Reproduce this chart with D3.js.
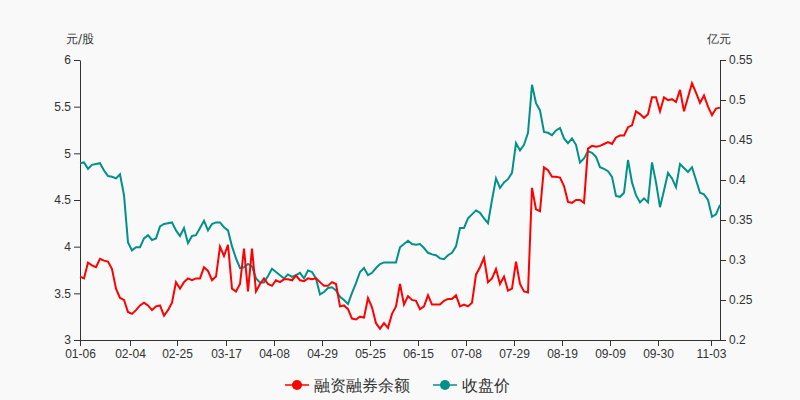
<!DOCTYPE html>
<html><head><meta charset="utf-8">
<script src="https://cdn.jsdelivr.net/npm/d3@7"></script>
<style>body{margin:0;background:#f9f9f9}svg{font-family:"DejaVu Sans",sans-serif}</style>
</head><body><svg width="800" height="400"></svg>
<script>
const xLabels=["01-06","02-04","02-25","03-17","04-08","04-29","05-25","06-15","07-08","07-29","08-19","09-09","09-30","11-03"];
const xLabelIdx=[0,12.5,24.25,36.5,48.5,60.5,72.5,84.5,96.5,108.5,120.5,132.5,144.5,157.75];
const leftTicks=[3,3.5,4,4.5,5,5.5,6];
const rightTicks=[0.2,0.25,0.3,0.35,0.4,0.45,0.5,0.55];
const redValues=[3.68,3.66,3.83,3.80,3.78,3.87,3.85,3.84,3.76,3.55,3.45,3.43,3.30,3.28,3.32,3.37,3.40,3.37,3.32,3.36,3.37,3.26,3.32,3.40,3.62,3.55,3.62,3.66,3.64,3.66,3.66,3.78,3.74,3.64,3.68,4.00,3.90,4.02,3.55,3.52,3.60,3.98,3.52,3.98,3.52,3.60,3.66,3.60,3.58,3.64,3.62,3.65,3.65,3.64,3.69,3.64,3.63,3.66,3.65,3.66,3.62,3.58,3.58,3.62,3.60,3.36,3.37,3.33,3.23,3.22,3.25,3.24,3.45,3.35,3.18,3.12,3.18,3.13,3.28,3.36,3.60,3.38,3.47,3.43,3.42,3.33,3.36,3.48,3.38,3.38,3.38,3.42,3.44,3.44,3.48,3.36,3.38,3.36,3.40,3.70,3.78,3.88,3.62,3.66,3.76,3.60,3.68,3.53,3.55,3.84,3.60,3.52,3.51,4.63,4.40,4.38,4.85,4.82,4.75,4.75,4.74,4.65,4.48,4.47,4.50,4.50,4.47,5.05,5.08,5.07,5.08,5.10,5.12,5.10,5.17,5.19,5.19,5.28,5.30,5.45,5.42,5.38,5.42,5.60,5.60,5.45,5.60,5.57,5.58,5.55,5.68,5.45,5.60,5.75,5.65,5.54,5.62,5.50,5.41,5.48,5.49];
const tealValues=[.421,.422,.414,.419,.420,.421,.412,.405,.404,.402,.407,.381,.322,.312,.316,.316,.327,.331,.325,.327,.342,.345,.346,.347,.337,.330,.340,.321,.330,.331,.340,.349,.337,.345,.347,.347,.341,.337,.317,.302,.290,.291,.295,.292,.277,.272,.272,.280,.289,.285,.281,.277,.282,.279,.281,.284,.277,.287,.285,.277,.257,.260,.265,.266,.262,.254,.250,.245,.259,.271,.285,.290,.281,.284,.290,.295,.297,.297,.297,.297,.316,.320,.324,.320,.319,.320,.315,.309,.307,.306,.302,.301,.306,.309,.317,.340,.340,.352,.357,.362,.359,.352,.346,.375,.402,.390,.397,.401,.409,.446,.437,.444,.459,.519,.496,.487,.460,.459,.456,.462,.465,.452,.446,.452,.444,.422,.427,.436,.434,.429,.416,.414,.411,.404,.380,.379,.384,.425,.397,.381,.372,.377,.372,.422,.397,.366,.387,.409,.402,.391,.420,.415,.410,.416,.400,.384,.382,.375,.354,.357,.369];
const svg=d3.select("svg");
const x=d3.scaleLinear().domain([0,160]).range([80,720]);
const yl=d3.scaleLinear().domain([3,6]).range([340,60]);
const yr=d3.scaleLinear().domain([0.2,0.55]).range([340,60]);
const txt="#333";
const gx=svg.append("g").attr("transform","translate(0,340)").call(d3.axisBottom(x).tickValues(xLabelIdx).tickFormat((d,i)=>xLabels[i]).tickSizeOuter(0));
const gl=svg.append("g").attr("transform","translate(80,0)").call(d3.axisLeft(yl).tickValues(leftTicks).tickFormat(d3.format("")).tickSizeOuter(0));
const gr=svg.append("g").attr("transform","translate(720,0)").call(d3.axisRight(yr).tickValues(rightTicks).tickFormat(d3.format("")).tickSizeOuter(0));
[gx,gl,gr].forEach(g=>{g.selectAll("path,line").attr("stroke",txt);g.selectAll("text").attr("fill",txt).style("font-size","12px")});
svg.append("text").attr("x",66).attr("y",43).attr("fill",txt).style("font-size","12px").text("元/股");
svg.append("text").attr("x",707).attr("y",43).attr("fill",txt).style("font-size","12px").text("亿元");
const line=(ys)=>d3.line().x((d,i)=>x(i)).y(d=>ys(d));
svg.append("path").datum(tealValues).attr("d",line(yr)).attr("fill","none").attr("stroke","#00918a").attr("stroke-width",2);
svg.append("path").datum(redValues).attr("d",line(yl)).attr("fill","none").attr("stroke","#ff0000").attr("stroke-width",2);
const leg=[{n:"融资融券余额",c:"#ff0000",x:285},{n:"收盘价",c:"#00918a",x:433}];
leg.forEach(l=>{
 svg.append("line").attr("x1",l.x).attr("x2",l.x+24).attr("y1",385).attr("y2",385).attr("stroke",l.c).attr("stroke-width",1.5);
 svg.append("circle").attr("cx",l.x+12).attr("cy",385).attr("r",5).attr("fill",l.c);
 svg.append("text").attr("x",l.x+29).attr("y",391).attr("fill",txt).style("font-size","16px").text(l.n);
});
</script></body></html>
